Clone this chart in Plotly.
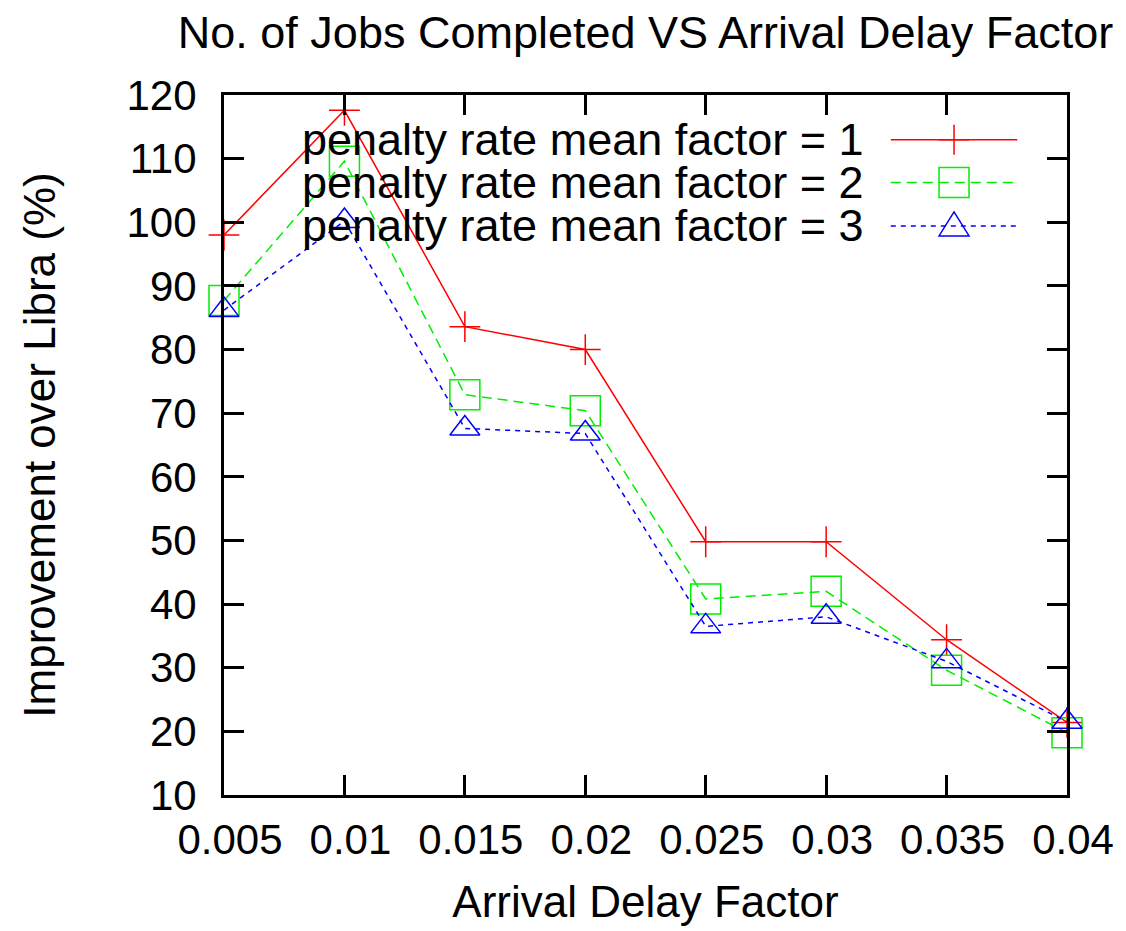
import plotly.graph_objects as go

# ---- data ----
arrival_delay = [0.005, 0.01, 0.015, 0.02, 0.025, 0.03, 0.035, 0.04]
x_tick_labels = ["0.005", "0.01", "0.015", "0.02", "0.025", "0.03", "0.035", "0.04"]
factor1 = [98.0, 117.6, 83.6, 80.0, 49.8, 49.8, 34.4, 21.4]
factor2 = [87.7, 109.6, 72.9, 70.4, 40.8, 42.0, 29.6, 19.8]
factor3 = [86.2, 100.2, 67.6, 66.8, 36.5, 38.0, 31.0, 21.5]
series_names = ["penalty rate mean factor = 1",
                "penalty rate mean factor = 2",
                "penalty rate mean factor = 3"]

FONT = "Liberation Sans, Arial, Helvetica, sans-serif"
RED, GREEN, BLUE = "#ff0000", "#00ee00", "#0000ff"

fig = go.Figure()
fig.add_trace(go.Scatter(
    x=arrival_delay, y=factor1, name=series_names[0], mode="lines+markers",
    line=dict(color=RED, width=1.5),
    marker=dict(symbol="cross-thin", size=22, line=dict(color=RED, width=1.5)),
    cliponaxis=False, showlegend=False))
fig.add_trace(go.Scatter(
    x=arrival_delay, y=factor2, name=series_names[1], mode="lines+markers",
    line=dict(color=GREEN, width=1.5, dash="10px,6px"),
    marker=dict(symbol="square-open", size=30, color=GREEN, line=dict(color=GREEN, width=1.5)),
    cliponaxis=False, showlegend=False))
fig.add_trace(go.Scatter(
    x=arrival_delay, y=factor3, name=series_names[2], mode="lines+markers",
    line=dict(color=BLUE, width=1.5, dash="5px,5px"),
    marker=dict(symbol="triangle-up-open", size=26, color=BLUE, line=dict(color=BLUE, width=1.5)),
    cliponaxis=False, showlegend=False))

# ---- gnuplot-style key (text left, sample right) ----
colors = [RED, GREEN, BLUE]
dashes = ["solid", "10px,6px", "5px,5px"]
row_y = [0.936, 0.875, 0.813]
text_x = 0.761
samp_x0, samp_x1, mark_x = 0.791, 0.941, 0.866
shapes = []
annotations = []
for i in range(3):
    annotations.append(dict(
        x=text_x, y=row_y[i], xref="paper", yref="paper", text=series_names[i],
        showarrow=False, xanchor="right", yanchor="middle",
        font=dict(family=FONT, size=45, color="black")))
    shapes.append(dict(type="line", xref="paper", yref="paper",
                       x0=samp_x0, x1=samp_x1, y0=row_y[i], y1=row_y[i],
                       line=dict(color=colors[i], width=1.5, dash=dashes[i])))
common = dict(type="path", xref="paper", yref="paper", xsizemode="pixel", ysizemode="pixel",
              xanchor=mark_x)
shapes.append(dict(common, yanchor=row_y[0], path="M-15,0 L15,0 M0,-15 L0,15",
                   line=dict(color=RED, width=1.5)))
shapes.append(dict(common, yanchor=row_y[1], path="M-15,-15 L15,-15 L15,15 L-15,15 Z",
                   line=dict(color=GREEN, width=1.5)))
shapes.append(dict(common, yanchor=row_y[2], path="M-15,-10 L15,-10 L0,14 Z",
                   line=dict(color=BLUE, width=1.5)))

fig.update_layout(
    width=1118, height=923,
    margin=dict(l=216, r=50, t=87, b=136),
    paper_bgcolor="white", plot_bgcolor="white",
    font=dict(family=FONT, color="black", size=42),
    title=dict(text="No. of Jobs Completed VS Arrival Delay Factor",
               x=0.5, xref="paper", xanchor="center",
               y=0.974, yref="container", yanchor="middle",
               font=dict(family=FONT, size=45, color="black")),
    shapes=shapes, annotations=annotations,
)
fig.update_xaxes(
    range=[0.005, 0.04], tickvals=arrival_delay, ticktext=x_tick_labels,
    showgrid=False, zeroline=False,
    showline=True, linecolor="black", linewidth=3, mirror="ticks",
    ticks="inside", ticklen=20, tickwidth=3, tickcolor="black",
    tickfont=dict(family=FONT, size=42), ticklabelstandoff=6, ticklabelshift=6,
    title=dict(text="Arrival Delay Factor", font=dict(family=FONT, size=44), standoff=24),
)
fig.update_yaxes(
    range=[10, 120], dtick=10, tick0=10,
    showgrid=False, zeroline=False,
    showline=True, linecolor="black", linewidth=3, mirror="ticks",
    ticks="inside", ticklen=20, tickwidth=3, tickcolor="black",
    tickfont=dict(family=FONT, size=42), ticklabelstandoff=16,
    title=dict(text="Improvement over Libra (%)", font=dict(family=FONT, size=44), standoff=58),
)

fig.write_html("out.html")
